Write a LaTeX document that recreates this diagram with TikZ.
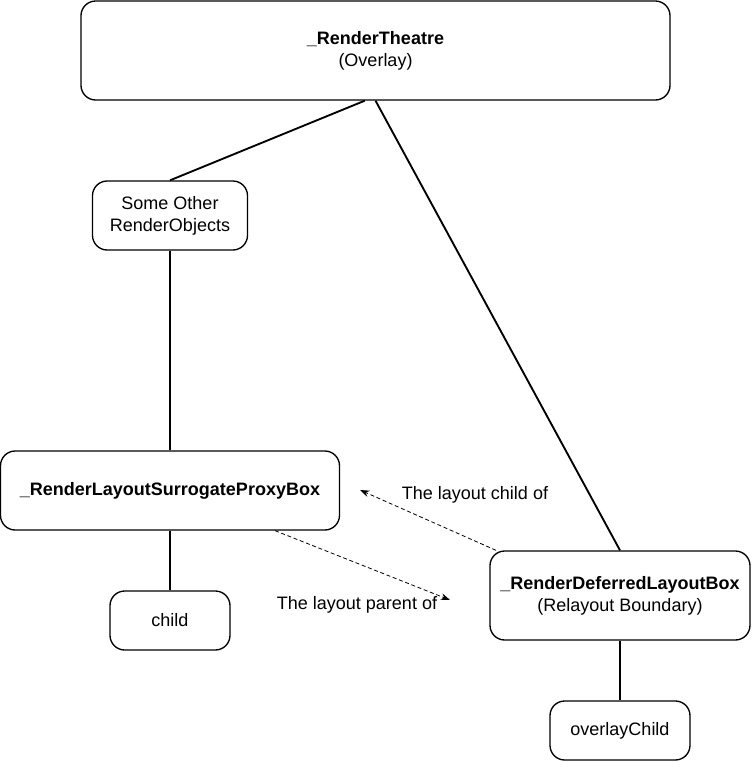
\documentclass[tikz,border=0pt]{standalone}
\usepackage{fontspec}
\setmainfont{Liberation Sans}
\usetikzlibrary{arrows.meta}
\begin{document}
\begin{tikzpicture}[x=0.75pt, y=-0.75pt,
    main/.style = {draw, rounded corners=11pt, line width=1pt, align=center, inner sep=0pt,
      font=\fontsize{13.5}{16.5}\selectfont},
    edge/.style = {line width=1.4pt},
    link/.style = {dash pattern=on 3pt off 2pt, line width=0.6pt, -{Stealth[length=7pt, width=5pt]}},
    lbl/.style = {font=\fontsize{13.5}{16.5}\selectfont}]
  \useasboundingbox (0,0) rectangle (751,761);
  \node[main, minimum width=441.75pt, minimum height=74.25pt] (theatre) at (375.5,50.5) {\textbf{\_RenderTheatre}\\(Overlay)};
  \node[main, minimum width=116.25pt, minimum height=51.75pt] (other) at (170,215.5) {Some Other\\RenderObjects};
  \node[main, minimum width=254.25pt, minimum height=59.25pt] (proxy) at (170,490.5) {\textbf{\_RenderLayoutSurrogateProxyBox}};
  \node[main, minimum width=90pt, minimum height=44.25pt] (child) at (170,620.5) {child};
  \node[main, minimum width=195pt, minimum height=66.75pt] (deferred) at (620,595.5) {\textbf{\_RenderDeferredLayoutBox}\\(Relayout Boundary)};
  \node[main, minimum width=105pt, minimum height=44.25pt] (overlay) at (620,730.5) {overlayChild};
  %
  \draw[edge] ([xshift=-8pt]theatre.south) -- (other.north);
  \draw[edge] (theatre.south) -- (deferred.north);
  \draw[edge] (other) -- (proxy);
  \draw[edge] (proxy) -- (child);
  \draw[edge] (deferred) -- (overlay);
  %
  \coordinate (childend) at (360,490);
  \coordinate (parentend) at (450,600);
  \draw[link] ([xshift=5pt]deferred.north west) -- (childend);
  \draw[link] ([xshift=78.75pt]proxy.south) -- (parentend);
  \node[lbl] (childof) at (475,495) {The layout child of};
  \node[lbl] (parentof) at (357,605) {The layout parent of};
\end{tikzpicture}
\end{document}
